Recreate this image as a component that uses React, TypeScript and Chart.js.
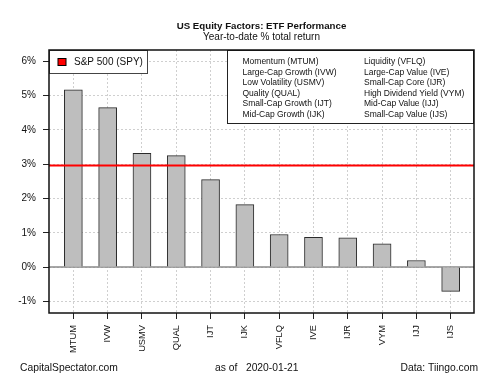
import React, { useEffect, useRef } from 'react';
import { Chart, registerables } from 'chart.js';

Chart.register(...registerables);

const tickers = ['MTUM', 'IVW', 'USMV', 'QUAL', 'IJT', 'IJK', 'VFLQ', 'IVE', 'IJR', 'VYM', 'IJJ', 'IJS'];
const returns = [5.17, 4.65, 3.32, 3.25, 2.55, 1.82, 0.95, 0.87, 0.85, 0.68, 0.19, -0.71];
const spyReturn = 2.96;
const yTicks = [-1, 0, 1, 2, 3, 4, 5, 6];
const legendLeft = [
  'Momentum (MTUM)',
  'Large-Cap Growth (IVW)',
  'Low Volatility (USMV)',
  'Quality (QUAL)',
  'Small-Cap Growth (IJT)',
  'Mid-Cap Growth (IJK)',
];
const legendRight = [
  'Liquidity (VFLQ)',
  'Large-Cap Value (IVE)',
  'Small-Cap Core (IJR)',
  'High Dividend Yield (VYM)',
  'Mid-Cap Value (IJJ)',
  'Small-Cap Value (IJS)',
];
const titleText = 'US Equity Factors: ETF Performance';
const subtitleText = 'Year-to-date % total return';
const spyLabel = 'S&P 500 (SPY)';
const footLeft = 'CapitalSpectator.com';
const footMid = 'as of   2020-01-21';
const footRight = 'Data: Tiingo.com';

const FONT = '"Liberation Sans", Arial, sans-serif';
const TEXT = '#111111';

const decorPlugin = {
  id: 'decor',
  beforeDatasetsDraw(chart: any) {
    const { ctx, chartArea: ca, scales } = chart;
    const y0 = scales.y.getPixelForValue(0);
    ctx.save();
    ctx.strokeStyle = '#8a8a8a';
    ctx.lineWidth = 1.5;
    ctx.beginPath();
    ctx.moveTo(ca.left, y0);
    ctx.lineTo(ca.right, y0);
    ctx.stroke();
    ctx.restore();
  },
  afterDatasetsDraw(chart: any) {
    const { ctx, chartArea: ca, scales } = chart;
    const ys = scales.y.getPixelForValue(spyReturn);
    ctx.save();
    ctx.strokeStyle = '#ff0000';
    ctx.lineWidth = 2;
    ctx.beginPath();
    ctx.moveTo(ca.left, ys);
    ctx.lineTo(ca.right, ys);
    ctx.stroke();

    // S&P legend box
    const bx = ca.left, by = ca.top, bw = 98, bh = 23;
    ctx.fillStyle = '#ffffff';
    ctx.fillRect(bx, by, bw, bh);
    ctx.strokeStyle = '#444444';
    ctx.lineWidth = 1;
    ctx.strokeRect(bx + 0.5, by + 0.5, bw, bh);
    ctx.fillStyle = '#ff0000';
    ctx.fillRect(bx + 9, by + 8.5, 8, 7);
    ctx.strokeStyle = '#000000';
    ctx.strokeRect(bx + 9, by + 8.5, 8, 7);
    ctx.fillStyle = TEXT;
    ctx.font = '10px ' + FONT;
    ctx.textBaseline = 'middle';
    ctx.textAlign = 'left';
    ctx.fillText(spyLabel, bx + 25, by + 12.5);

    // Right legend box
    const rx = ca.left + 178, ry = ca.top, rw = ca.right - rx, rh = 73;
    ctx.fillStyle = '#ffffff';
    ctx.fillRect(rx, ry, rw, rh);
    ctx.strokeStyle = '#222222';
    ctx.strokeRect(rx + 0.5, ry + 0.5, rw - 1, rh);
    ctx.fillStyle = TEXT;
    ctx.font = '8.5px ' + FONT;
    for (let i = 0; i < legendLeft.length; i++) {
      const ty = ry + 12 + i * 10.45;
      ctx.fillText(legendLeft[i], rx + 15.5, ty);
      ctx.fillText(legendRight[i], rx + 137, ty);
    }
    ctx.restore();
  },
  afterDraw(chart: any) {
    const { ctx, chartArea: ca } = chart;
    ctx.save();
    ctx.strokeStyle = '#111111';
    ctx.lineWidth = 1.5;
    ctx.strokeRect(ca.left, ca.top, ca.right - ca.left, ca.bottom - ca.top);

    const cx = (ca.left + ca.right) / 2;
    ctx.fillStyle = TEXT;
    ctx.textAlign = 'center';
    ctx.textBaseline = 'middle';
    ctx.font = 'bold 9.7px ' + FONT;
    ctx.fillText(titleText, cx, 26);
    ctx.font = '10px ' + FONT;
    ctx.fillText(subtitleText, cx, 37.5);

    ctx.font = '10.3px ' + FONT;
    ctx.textAlign = 'left';
    ctx.fillText(footLeft, 20, 368);
    ctx.fillText(footMid, 215, 368);
    ctx.textAlign = 'right';
    ctx.fillText(footRight, 478, 368);
    ctx.restore();
  },
};

export default function App() {
  const ref = useRef<HTMLCanvasElement>(null);
  useEffect(() => {
    if (!ref.current) return;
    const chart = new Chart(ref.current, {
      type: 'bar',
      data: {
        datasets: [
          {
            label: 'YTD return',
            data: returns.map((v, i) => ({ x: i, y: v })),
            backgroundColor: '#bebebe',
            borderColor: '#2a2a2a',
            borderWidth: 1,
            barThickness: 18,
          } as any,
        ],
      },
      options: {
        animation: false,
        responsive: false,
        events: [],
        layout: { padding: { top: 50, right: 26, left: 0, bottom: 0 } },
        plugins: { legend: { display: false }, tooltip: { enabled: false }, title: { display: false } },
        scales: {
          x: {
            type: 'linear',
            offset: false,
            min: -0.71,
            max: 11.68,
            afterBuildTicks: (scale: any) => {
              scale.ticks = tickers.map((_, i) => ({ value: i }));
            },
            afterFit: (scale: any) => {
              scale.height = 62;
            },
            ticks: {
              autoSkip: false,
              maxRotation: 90,
              minRotation: 90,
              padding: 6,
              color: TEXT,
              font: { family: FONT, size: 9.3 },
              callback: (v: any) => tickers[Math.round(Number(v))] ?? '',
            },
            grid: {
              offset: false,
              color: '#cfcfcf',
              lineWidth: 1,
              drawTicks: true,
              tickLength: 6,
              tickColor: '#222222',
              tickBorderDash: [],
            } as any,
            border: { display: false, dash: [2, 2] },
          },
          y: {
            type: 'linear',
            min: -1.34,
            max: 6.33,
            afterBuildTicks: (scale: any) => {
              scale.ticks = yTicks.map((v) => ({ value: v }));
            },
            afterFit: (scale: any) => {
              scale.width = 49;
            },
            ticks: {
              padding: 7,
              color: TEXT,
              font: { family: FONT, size: 10 },
              callback: (v: any) => `${v}%`,
            },
            grid: {
              color: '#cfcfcf',
              lineWidth: 1,
              drawTicks: true,
              tickLength: 6,
              tickColor: '#222222',
              tickBorderDash: [],
            } as any,
            border: { display: false, dash: [2, 2] },
          },
        },
      },
      plugins: [decorPlugin],
    });
    return () => chart.destroy();
  }, []);
  return (
    <div style={{ position: 'absolute', left: 0, top: 0, width: 500, height: 375, background: '#fff' }}>
      <canvas ref={ref} width={500} height={375} style={{ display: 'block' }} />
    </div>
  );
}
